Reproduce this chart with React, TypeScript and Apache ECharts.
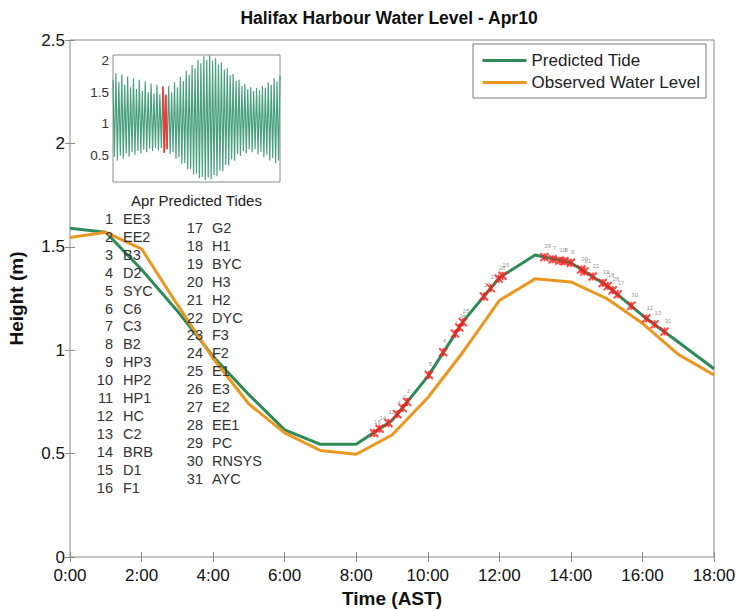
import React, { useEffect, useRef } from "react";
import * as echarts from "echarts";

// ---------- Main chart data (Apr 10) ----------
const hours = [0, 1, 2, 3, 4, 5, 6, 7, 8, 9, 10, 11, 12, 13, 14, 15, 16, 17, 18];
const predictedTide = [1.59, 1.57, 1.39, 1.19, 0.97, 0.785, 0.615, 0.545, 0.545, 0.66, 0.872, 1.142, 1.35, 1.46, 1.423, 1.313, 1.168, 1.04, 0.91];
const observedLevel = [1.545, 1.57, 1.49, 1.22, 0.96, 0.74, 0.6, 0.515, 0.497, 0.59, 0.77, 0.995, 1.24, 1.345, 1.33, 1.25, 1.13, 0.98, 0.88];
const xTickLabels = ["0:00", "2:00", "4:00", "6:00", "8:00", "10:00", "12:00", "14:00", "16:00", "18:00"];

// ---------- Station observations ----------
const stationNames = ["EE3", "EE2", "B3", "D2", "SYC", "C6", "C3", "B2", "HP3", "HP2", "HP1", "HC", "C2", "BRB", "D1", "F1",
  "G2", "H1", "BYC", "H3", "H2", "DYC", "F3", "F2", "E1", "E3", "E2", "EE1", "PC", "RNSYS", "AYC"];
const markerTimes = [8.5, 8.65, 8.9, 9.15, 9.3, 9.42, 10.03, 10.43, 10.76, 10.88, 10.98, 11.57, 11.76, 11.98, 12.09,
  13.26, 13.49, 13.68, 13.82, 14.0, 14.29, 14.38, 14.61, 14.89, 15.03, 15.17, 15.31, 15.69, 16.11, 16.34, 16.62];
const markerHeights = [0.6, 0.62, 0.648, 0.69, 0.72, 0.75, 0.88, 0.99, 1.08, 1.11, 1.135, 1.26, 1.3, 1.346, 1.36,
  1.45, 1.44, 1.433, 1.43, 1.423, 1.39, 1.38, 1.356, 1.325, 1.31, 1.29, 1.27, 1.215, 1.153, 1.125, 1.09];
const markerStations = [16, 14, 11, 4, 3, 2, 5, 6, 1, 24, 25, 23, 27, 28, 15,
  29, 7, 10, 8, 9, 20, 21, 22, 19, 18, 26, 17, 30, 12, 13, 31];

// ---------- Inset: April predicted tides (successive high / low waters) ----------
const aprFirstExtremeDay = 1.2025; // day of month of first high water
const aprHalfTideDays = 0.25875;   // 6.21 h between high and low water
const aprHighs = [1.7, 1.8, 1.66, 1.78, 1.62, 1.75, 1.58, 1.72, 1.55, 1.7, 1.52, 1.67, 1.5, 1.64, 1.48, 1.62, 1.47, 1.59, 1.46, 1.6,
  1.5, 1.66, 1.58, 1.74, 1.68, 1.84, 1.78, 1.93, 1.88, 2.01, 1.96, 2.07, 2.01, 2.08, 2.0, 2.04, 1.94, 1.97, 1.86, 1.88,
  1.77, 1.79, 1.68, 1.7, 1.6, 1.63, 1.55, 1.58, 1.52, 1.57, 1.53, 1.6, 1.57, 1.66, 1.62, 1.72, 1.67, 1.76];
const aprLows = [0.48, 0.42, 0.5, 0.45, 0.53, 0.48, 0.55, 0.51, 0.57, 0.53, 0.59, 0.55, 0.61, 0.57, 0.62, 0.58, 0.62, 0.545, 0.6, 0.52,
  0.55, 0.45, 0.47, 0.37, 0.38, 0.28, 0.29, 0.2, 0.21, 0.14, 0.16, 0.11, 0.15, 0.12, 0.19, 0.17, 0.26, 0.25, 0.35, 0.34,
  0.44, 0.42, 0.52, 0.49, 0.57, 0.53, 0.6, 0.55, 0.6, 0.52, 0.56, 0.47, 0.51, 0.42, 0.46, 0.38, 0.42];
const highlightFirst = 34; // extremes on Apr 10
const highlightLast = 37;
const insetYLabels = [0.5, 1, 1.5, 2];

const FONT = "'Liberation Sans', Arial, Helvetica, sans-serif";
const GREEN = "#2e8b57";
const ORANGE = "#eb961f";
const AXIS = "#8a8a8a";

export default function App() {
  const ref = useRef<HTMLDivElement>(null);

  useEffect(() => {
    if (!ref.current) return;
    const chart = echarts.init(ref.current, undefined, { renderer: "svg" });

    const aprSeq: number[][] = [];
    for (let k = 0; k < aprHighs.length + aprLows.length; k++) {
      const v = k % 2 === 0 ? aprHighs[k / 2] : aprLows[(k - 1) / 2];
      aprSeq.push([aprFirstExtremeDay + k * aprHalfTideDays, v]);
    }
    const aprHighlight = aprSeq.slice(highlightFirst, highlightLast + 1);

    const listTexts: any[] = [];
    stationNames.forEach((name, i) => {
      const col = i < 16 ? 0 : 1;
      const row = col === 0 ? i : i - 16;
      const y = col === 0 ? 219 + row * 17.9 : 228 + row * 17.9;
      const numRight = col === 0 ? 113 : 203;
      const nameLeft = col === 0 ? 123 : 212;
      listTexts.push({
        type: "text", x: numRight, y, z: 50,
        style: { text: String(i + 1), font: `14.5px ${FONT}`, fill: "#333", textAlign: "right", textVerticalAlign: "middle" },
      });
      listTexts.push({
        type: "text", x: nameLeft, y, z: 50,
        style: { text: name, font: `14.5px ${FONT}`, fill: "#333", textAlign: "left", textVerticalAlign: "middle" },
      });
    });

    chart.setOption({
      animation: false,
      backgroundColor: "#fff",
      title: {
        text: "Halifax Harbour Water Level - Apr10",
        left: 384, top: 4, textAlign: "center",
        textStyle: { fontFamily: FONT, fontSize: 17.5, fontWeight: "bold", color: "#111" },
      },
      legend: {
        data: ["Predicted Tide", "Observed Water Level"],
        orient: "vertical", left: 473, top: 44,
        itemWidth: 44, itemHeight: 14, itemGap: 5,
        padding: [8, 6, 7, 8],
        borderColor: "#777", borderWidth: 1, backgroundColor: "#fff",
        itemStyle: { opacity: 0 },
        lineStyle: { width: 3 },
        textStyle: { fontFamily: FONT, fontSize: 17, color: "#222" },
        z: 60,
      },
      grid: [
        { left: 70, right: 26, top: 40, bottom: 53, outerBoundsMode: "none", containLabel: false,
          show: true, borderColor: AXIS, borderWidth: 1, backgroundColor: "transparent" },
        { left: 113, top: 55, width: 167, height: 127, outerBoundsMode: "none", containLabel: false,
          show: true, borderColor: AXIS, borderWidth: 1, backgroundColor: "#fff", z: 20 },
      ],
      xAxis: [
        {
          type: "value", gridIndex: 0, min: 0, max: 18, interval: 2,
          name: "Time (AST)", nameLocation: "middle", nameGap: 31,
          nameTextStyle: { fontFamily: FONT, fontSize: 19, fontWeight: "bold", color: "#111" },
          axisLine: { show: false },
          axisTick: { inside: true, length: 5, lineStyle: { color: AXIS } },
          axisLabel: { fontFamily: FONT, fontSize: 17, color: "#111", margin: 10, formatter: (v: number) => xTickLabels[v / 2] },
          splitLine: { show: false },
        },
        {
          type: "value", gridIndex: 0, position: "top", min: 0, max: 18, interval: 2,
          axisLine: { show: false }, axisLabel: { show: false }, splitLine: { show: false },
          axisTick: { inside: true, length: 5, lineStyle: { color: AXIS } },
        },
        {
          type: "value", gridIndex: 1, min: "dataMin", max: "dataMax",
          axisLine: { show: false }, axisLabel: { show: false }, splitLine: { show: false },
          axisTick: { inside: true, length: 3, lineStyle: { color: AXIS }, customValues: [9.4, 17.5] },
          name: "Apr Predicted Tides", nameLocation: "middle", nameGap: 11,
          nameTextStyle: { fontFamily: FONT, fontSize: 15, color: "#222" },
        },
      ],
      yAxis: [
        {
          type: "value", gridIndex: 0, min: 0, max: 2.5, interval: 0.5,
          name: "Height (m)", nameLocation: "middle", nameGap: 44, nameRotate: 90,
          nameTextStyle: { fontFamily: FONT, fontSize: 19, fontWeight: "bold", color: "#111" },
          axisLine: { show: false },
          axisTick: { inside: true, length: 5, lineStyle: { color: AXIS } },
          axisLabel: { fontFamily: FONT, fontSize: 17, color: "#111", margin: 5 },
          splitLine: { show: false },
        },
        {
          type: "value", gridIndex: 0, position: "right", min: 0, max: 2.5, interval: 0.5,
          axisLine: { show: false }, axisLabel: { show: false }, splitLine: { show: false },
          axisTick: { inside: true, length: 5, lineStyle: { color: AXIS } },
        },
        {
          type: "value", gridIndex: 1, min: 0.08, max: 2.09,
          axisLine: { show: false }, splitLine: { show: false },
          axisTick: { inside: true, length: 3, lineStyle: { color: AXIS }, customValues: insetYLabels },
          axisLabel: { fontFamily: FONT, fontSize: 13.5, color: "#333", margin: 4, customValues: insetYLabels },
        },
      ],
      series: [
        {
          name: "Predicted Tide", type: "line", xAxisIndex: 0, yAxisIndex: 0,
          data: hours.map((h, i) => [h, predictedTide[i]]),
          symbol: "none", lineStyle: { color: GREEN, width: 3 }, itemStyle: { color: GREEN }, z: 3,
        },
        {
          name: "Observed Water Level", type: "line", xAxisIndex: 0, yAxisIndex: 0,
          data: hours.map((h, i) => [h, observedLevel[i]]),
          symbol: "none", lineStyle: { color: ORANGE, width: 3 }, itemStyle: { color: ORANGE }, z: 4,
        },
        {
          name: "Stations", type: "scatter", xAxisIndex: 0, yAxisIndex: 0,
          data: markerTimes.map((t, i) => [t, markerHeights[i], markerStations[i]]),
          symbol: "path://M0,0L10,10M10,0L0,10M5,0L5,10",
          symbolSize: 8,
          itemStyle: { color: "#ff1a1a", borderColor: "#ff1a1a", borderWidth: 2 },
          label: {
            show: true, position: [5, -9], fontSize: 6, color: "#777", fontFamily: FONT,
            formatter: (p: any) => String(p.value[2]),
          },
          labelLayout: { hideOverlap: false },
          z: 6,
        },
        {
          name: "Apr tides", type: "line", xAxisIndex: 2, yAxisIndex: 2,
          data: aprSeq, symbol: "none", lineStyle: { color: "#4aa07e", width: 1.2 }, z: 21,
        },
        {
          name: "Apr 10", type: "line", xAxisIndex: 2, yAxisIndex: 2,
          data: aprHighlight, symbol: "none", lineStyle: { color: "#ee3b3b", width: 1.8 }, z: 22,
        },
      ],
      graphic: listTexts,
    });

    return () => chart.dispose();
  }, []);

  return <div ref={ref} style={{ width: 740, height: 610, position: "absolute", left: 0, top: 0 }} />;
}
